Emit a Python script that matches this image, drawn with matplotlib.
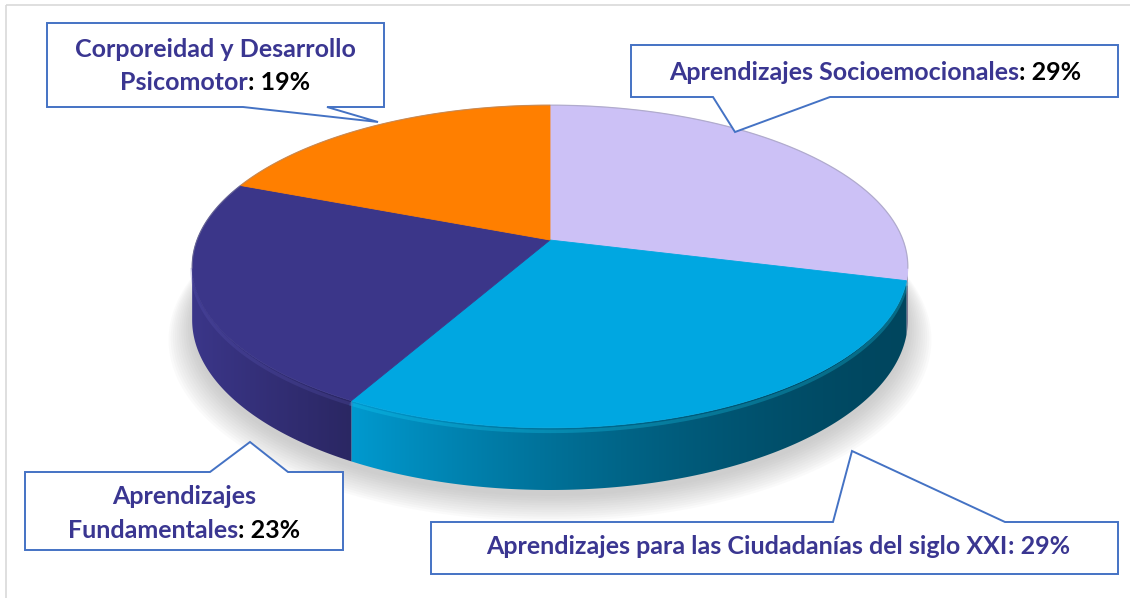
import matplotlib
matplotlib.use('Agg')
import matplotlib.pyplot as plt
import numpy as np
from matplotlib.patches import Polygon, Rectangle
from matplotlib.colors import to_rgb

# datos del gráfico (sentido horario desde arriba)
names = ['Aprendizajes Socioemocionales',
         'Aprendizajes para las Ciudadanías del siglo XXI',
         'Aprendizajes\nFundamentales',
         'Corporeidad y Desarrollo\nPsicomotor']
values = [29, 29, 23, 19]
pct_labels = [': 29%', ': 29%', ': 23%', ': 19%']
colors = ['#CCC1F6', '#00A7E1', '#3B3689', '#FF7F00']
pct_colors = ['black', '#3A3691', 'black', 'black']

TXT = '#3A3691'
BORDER = '#4472C4'

W, H_ = 1130, 598
fig = plt.figure(figsize=(W / 100, H_ / 100), dpi=100)
ax = fig.add_axes([0, 0, 1, 1])
ax.axis('off')

# marco gris del área del gráfico
ax.add_patch(Rectangle((6, 5), 1300, 700, fill=False, edgecolor='#D9D9D9', lw=1.2))

# geometría del pastel 3D (perspectiva simple)
cx, cy = 550, 240
A, B, k, depth = 353, 157, 0.164, 52


def proj(theta, drop=0.0):
    th = np.radians(theta)
    x, z = np.sin(th), np.cos(th)
    w = 1 + k * z
    return cx + A * x / w, cy - B * z / w + drop / w


total = sum(values)
bounds = np.concatenate([[0], np.cumsum(values)]) * 360.0 / total

# sombra suave
full = np.linspace(0, 360, 361)
bx, by = proj(full, depth)
for i in range(12):
    s = 1 + 0.006 * i
    ax.fill(cx + (bx - cx) * s, cy + 6 + (by - cy) * s + i * 0.8,
            color='#808080', alpha=0.035, lw=0, zorder=1)

# paredes laterales con degradado horizontal
shade = {1: lambda u: 0.42 + 0.5 * u ** 1.5,
         2: lambda u: 0.72 + 0.28 * u,
         0: lambda u: 0.55 + 0 * u,
         3: lambda u: 0.7 + 0 * u}
for i in range(len(values)):
    a0, a1 = bounds[i], bounds[i + 1]
    lo = max(a0, 180 - np.degrees(np.arccos(k)))
    hi = min(a1, 180 + np.degrees(np.arccos(k)))
    if hi <= lo:
        continue
    th = np.linspace(lo, hi, 200)
    tx, ty = proj(th)
    bx2, by2 = proj(th[::-1], depth)
    pts = np.column_stack([np.r_[tx, bx2], np.r_[ty, by2]])
    clip = Polygon(pts, closed=True, transform=ax.transData)
    xmin, xmax = pts[:, 0].min(), pts[:, 0].max()
    ymin, ymax = pts[:, 1].min(), pts[:, 1].max()
    u = np.linspace(1, 0, 300)
    base = np.array(to_rgb(colors[i]))
    grad = np.clip(base[None, :] * shade[i](u)[:, None], 0, 1)[None, :, :]
    im = ax.imshow(grad, extent=(xmin, xmax, ymax + 1, ymin - 1), aspect='auto',
                   interpolation='bilinear', zorder=2)
    im.set_clip_path(clip)
    # brillo del borde superior
    ex, ey = proj(th, 3)
    ax.plot(ex, ey, color=np.clip(base * 1.15 + 0.1, 0, 1), alpha=0.25, lw=2.5, zorder=3)

# cara superior
for i in range(len(values)):
    th = np.linspace(bounds[i], bounds[i + 1], 120)
    px, py = proj(th)
    pts = np.column_stack([np.r_[cx, px], np.r_[cy, py]])
    ax.add_patch(Polygon(pts, closed=True, facecolor=colors[i], edgecolor=colors[i],
                         lw=0.6, zorder=4))

# borde trasero gris
tb = np.linspace(-100, 100, 200)
ex, ey = proj(tb)
ax.plot(ex, ey, color='#8C8C9C', alpha=0.45, lw=0.9, zorder=5)

ax.set_xlim(0, W)
ax.set_ylim(H_, 0)


# llamadas (cuadro + puntero)
def callout(box, side, base, tip):
    x0, y0, x1, y1 = box
    if side == 'bottom':
        pts = [(x0, y0), (x1, y0), (x1, y1), (base[1], y1), tip, (base[0], y1), (x0, y1)]
    else:
        pts = [(x0, y0), (base[0], y0), tip, (base[1], y0), (x1, y0), (x1, y1), (x0, y1)]
    ax.add_patch(Polygon(pts, closed=True, facecolor='white', edgecolor=BORDER,
                         lw=1.4, zorder=6, joinstyle='miter'))


callouts = [
    ((631, 45, 1118, 97), 'bottom', (713, 830), (735, 132)),
    ((431, 522, 1118, 574), 'top', (833, 1005), (852, 451)),
    ((25, 472, 343, 550), 'top', (210, 288), (250, 442)),
    ((47, 23, 384, 107), 'bottom', (243, 327), (378, 122)),
]
text_pos = [(875, [80]), (778, [554]), (184, [504, 538]), (215, [57, 90])]

renderer = fig.canvas.get_renderer()
FS = 18


def put_line(parts, xc, y):
    texts = [ax.text(0, y, s, color=c, fontsize=FS, fontweight='bold', family='Lato',
                     va='baseline', ha='left', zorder=7) for s, c in parts]
    widths = [t.get_window_extent(renderer).width for t in texts]
    x = xc - sum(widths) / 2
    for t, w in zip(texts, widths):
        t.set_x(x)
        x += w


for i in range(len(values)):
    callout(*callouts[i])
    xc, ys = text_pos[i]
    lines = names[i].split('\n')
    for j, (ln, y) in enumerate(zip(lines, ys)):
        parts = [(ln, TXT)]
        if j == len(lines) - 1:
            parts.append((pct_labels[i], pct_colors[i]))
        put_line(parts, xc, y)

fig.savefig('out.png', dpi=100)
